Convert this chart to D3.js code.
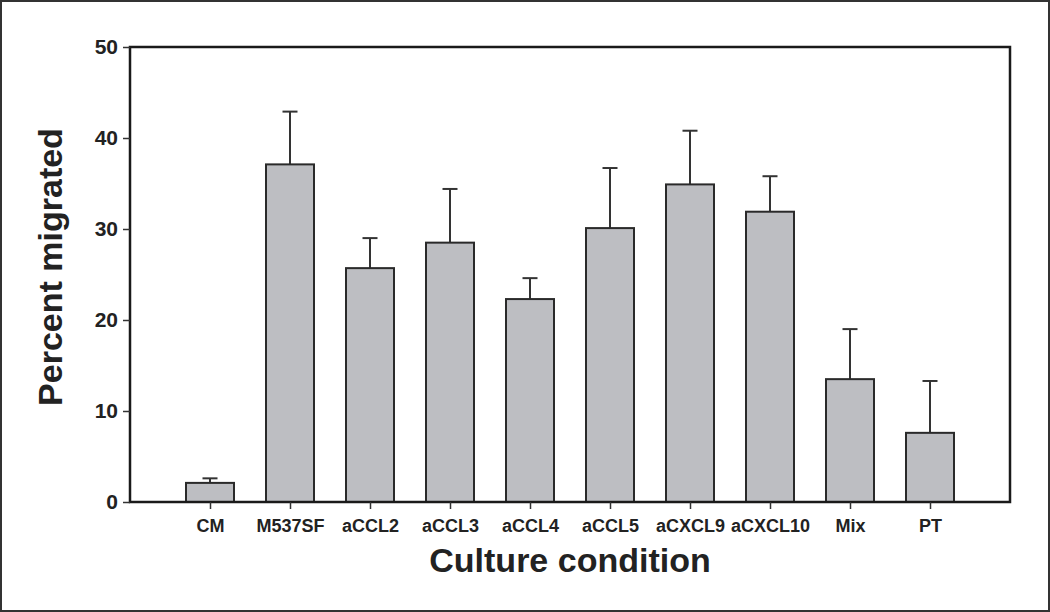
<!DOCTYPE html>
<html lang="en">
<style>
body { margin: 0; background: #fff; }
text { font-family: "Liberation Sans", Arial, sans-serif; font-weight: bold; fill: #222; }
</style>
<script type="text/javascript" src="https://d3js.org/d3.v7.min.js"></script>
<body>
<script type="text/javascript">

// Data
var conditions = ["CM", "M537SF", "aCCL2", "aCCL3", "aCCL4", "aCCL5", "aCXCL9", "aCXCL10", "Mix", "PT"];
var means = [2.1, 37.1, 25.7, 28.5, 22.3, 30.1, 34.9, 31.9, 13.5, 7.6];
var errTops = [2.6, 42.9, 29.0, 34.4, 24.6, 36.7, 40.8, 35.8, 19.0, 13.3];
var yTicks = [0, 10, 20, 30, 40, 50];

var width = 1050, height = 612;
// plot area edges (not named "top": that clashes with window.top)
var plotL = 130, plotR = 1010, plotT = 47, plotB = 502;

var svg = d3.select("body").append("svg")
    .attr("width", width)
    .attr("height", height);

// outer border of the figure
svg.append("rect")
    .attr("x", 1).attr("y", 1)
    .attr("width", width - 2).attr("height", height - 2)
    .attr("fill", "none").attr("stroke", "#333").attr("stroke-width", 2);

var x = d3.scalePoint().domain(conditions).range([plotL, plotR]).padding(1);
var y = d3.scaleLinear().domain([0, 50]).range([plotB, plotT]);
var barW = x.step() * 0.6;

var rows = conditions.map(function(c, i) { return { c: c, m: means[i], e: errTops[i] }; });

// error bars (upper only), drawn under the bars
var err = svg.append("g").attr("stroke", "#333").attr("stroke-width", 2);
err.selectAll("line.v").data(rows).enter().append("line")
    .attr("x1", function(d) { return x(d.c); })
    .attr("x2", function(d) { return x(d.c); })
    .attr("y1", function(d) { return y(d.m); })
    .attr("y2", function(d) { return y(d.e); });
err.selectAll("line.cap").data(rows).enter().append("line")
    .attr("x1", function(d) { return x(d.c) - 7.5; })
    .attr("x2", function(d) { return x(d.c) + 7.5; })
    .attr("y1", function(d) { return y(d.e); })
    .attr("y2", function(d) { return y(d.e); });

// bars
svg.append("g").selectAll("rect").data(rows).enter().append("rect")
    .attr("x", function(d) { return x(d.c) - barW / 2; })
    .attr("y", function(d) { return y(d.m); })
    .attr("width", barW)
    .attr("height", function(d) { return y(0) - y(d.m); })
    .attr("fill", "#bdbec2")
    .attr("stroke", "#2a2a2a")
    .attr("stroke-width", 2);

// plot frame
svg.append("rect")
    .attr("x", plotL).attr("y", plotT)
    .attr("width", plotR - plotL).attr("height", plotB - plotT)
    .attr("fill", "none").attr("stroke", "#1a1a1a").attr("stroke-width", 2.5);

// axes
var yAxis = svg.append("g")
    .attr("transform", "translate(" + plotL + ",0)")
    .call(d3.axisLeft(y).tickValues(yTicks).tickSize(7).tickPadding(5));
yAxis.select(".domain").remove();
yAxis.selectAll("line").attr("stroke", "#333").attr("stroke-width", 1.5);
yAxis.selectAll("text").style("font-size", "21px").attr("fill", "#222");

var xAxis = svg.append("g")
    .attr("transform", "translate(0," + plotB + ")")
    .call(d3.axisBottom(x).tickSize(7).tickPadding(10));
xAxis.select(".domain").remove();
xAxis.selectAll("line").attr("stroke", "#333").attr("stroke-width", 1.5);
xAxis.selectAll("text").style("font-size", "18px").attr("fill", "#222");

// titles
svg.append("text")
    .attr("x", (plotL + plotR) / 2).attr("y", 572)
    .attr("text-anchor", "middle")
    .style("font-size", "34px")
    .text("Culture condition");

svg.append("text")
    .attr("transform", "translate(62,267) rotate(-90)")
    .attr("text-anchor", "middle")
    .style("font-size", "34px")
    .text("Percent migrated");

</script>
</body>
</html>
